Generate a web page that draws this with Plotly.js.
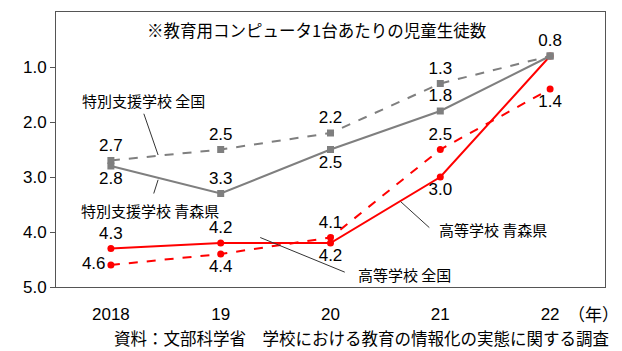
<!DOCTYPE html>
<html>
<head>
<meta charset="utf-8">
<script src="https://cdn.plot.ly/plotly-3.0.1.min.js"></script>
<style>body{margin:0;background:#fff}</style>
</head>
<body>
<div id="plot" style="width:622px;height:351px"></div>
<script>
var years = ["2018", "19", "20", "21", "22"];
var tokuZenkoku = [2.7, 2.5, 2.2, 1.3, 0.8];
var tokuAomori = [2.8, 3.3, 2.5, 1.8, 0.8];
var kouAomori = [4.3, 4.2, 4.2, 3.0, 0.8];
var kouZenkoku = [4.6, 4.4, 4.1, 2.5, 1.4];

var font = "Noto Sans CJK JP, sans-serif";
var numFont = "Liberation Sans, Arial, sans-serif";
var gray = "#7f7f7f";
var red = "#ff0000";

function fmt(a) { return a.map(function (v) { return v.toFixed(1); }); }

var valFont = {size: 17, color: "#000", family: numFont};

var trace1 = {
    x: years, y: tokuZenkoku, type: "scatter", mode: "lines+markers+text",
    name: "特別支援学校 全国",
    line: {color: gray, width: 2, dash: "dash"},
    marker: {color: gray, symbol: "square", size: 7},
    text: fmt(tokuZenkoku),
    textposition: ["top center", "top center", "top center", "top center", "top center"],
    textfont: valFont,
    cliponaxis: false
};
var trace2 = {
    x: years, y: tokuAomori, type: "scatter", mode: "lines+markers+text",
    name: "特別支援学校 青森県",
    line: {color: gray, width: 2},
    marker: {color: gray, symbol: "square", size: 7},
    text: ["2.8", "3.3", "2.5", "1.8", ""],
    textposition: ["bottom center", "top center", "bottom center", "top center", "top center"],
    textfont: valFont,
    cliponaxis: false
};
var trace3 = {
    x: years, y: kouAomori, type: "scatter", mode: "lines+markers+text",
    name: "高等学校 青森県",
    line: {color: red, width: 2},
    marker: {color: red, symbol: "circle", size: 7},
    text: ["4.3", "4.2", "4.2", "3.0", ""],
    textposition: ["top center", "top center", "bottom center", "bottom center", "top center"],
    textfont: valFont,
    cliponaxis: false
};
var trace4 = {
    x: years, y: kouZenkoku, type: "scatter", mode: "lines+markers+text",
    name: "高等学校 全国",
    line: {color: red, width: 2, dash: "dash"},
    marker: {color: red, symbol: "circle", size: 7},
    text: fmt(kouZenkoku),
    textposition: ["middle left", "bottom center", "top center", "top center", "bottom center"],
    textfont: valFont,
    cliponaxis: false
};

var data = [trace4, trace3, trace1, trace2];

var lbl = {size: 15, color: "#000", family: font};
var layout = {
    width: 622, height: 351,
    margin: {l: 56, r: 17, t: 12, b: 64},
    showlegend: false,
    paper_bgcolor: "#fff", plot_bgcolor: "#fff",
    font: {family: font, color: "#000"},
    xaxis: {
        type: "category", range: [-0.5, 4.5],
        showline: true, mirror: true, linecolor: "#555", linewidth: 1,
        showgrid: false, ticks: "outside", ticklen: 12, tickcolor: "rgba(0,0,0,0)",
        tickfont: {size: 17, family: numFont}
    },
    yaxis: {
        range: [5, 0], tickvals: [1, 2, 3, 4, 5], tickformat: ".1f",
        showline: true, mirror: true, linecolor: "#555", linewidth: 1,
        showgrid: false, zeroline: false, ticks: "outside", ticklen: 5, tickcolor: "#555",
        tickfont: {size: 17, family: numFont}
    },
    shapes: [
        {type: "line", xref: "x", yref: "y", x0: 0.3, y0: 1.85, x1: 0.43, y1: 2.6, line: {color: "#333", width: 1}},
        {type: "line", xref: "x", yref: "y", x0: 0.43, y0: 3.05, x1: 0.39, y1: 3.3, line: {color: "#333", width: 1}},
        {type: "line", xref: "x", yref: "y", x0: 2.64, y0: 3.45, x1: 2.9, y1: 3.92, line: {color: "#333", width: 1}},
        {type: "line", xref: "x", yref: "y", x0: 1.36, y0: 4.1, x1: 2.13, y1: 4.73, line: {color: "#333", width: 1}}
    ],
    annotations: [
        {text: "※教育用コンピュータ1台あたりの児童生徒数", xref: "paper", yref: "paper", x: 0.475, y: 0.935, yanchor: "middle", showarrow: false, font: {size: 16.5, family: font}},
        {text: "特別支援学校 全国", xref: "x", yref: "y", x: 0.3, y: 1.6, yanchor: "middle", showarrow: false, font: lbl},
        {text: "特別支援学校 青森県", xref: "x", yref: "y", x: 0.36, y: 3.6, yanchor: "middle", showarrow: false, font: lbl},
        {text: "高等学校 青森県", xref: "x", yref: "y", x: 3.48, y: 3.96, yanchor: "middle", showarrow: false, font: lbl},
        {text: "高等学校 全国", xref: "x", yref: "y", x: 2.67, y: 4.78, yanchor: "middle", showarrow: false, font: lbl},
        {text: "（年）", xref: "paper", yref: "paper", x: 1.03, xanchor: "right", y: -0.095, yanchor: "middle", showarrow: false, font: {size: 17, family: font}},
        {text: "資料：文部科学省　学校における教育の情報化の実態に関する調査", xref: "paper", yref: "paper", x: 0.556, y: -0.185, yanchor: "middle", showarrow: false, font: {size: 16.5, family: font}}
    ]
};

Plotly.newPlot("plot", data, layout, {displayModeBar: false});
</script>
</body>
</html>
